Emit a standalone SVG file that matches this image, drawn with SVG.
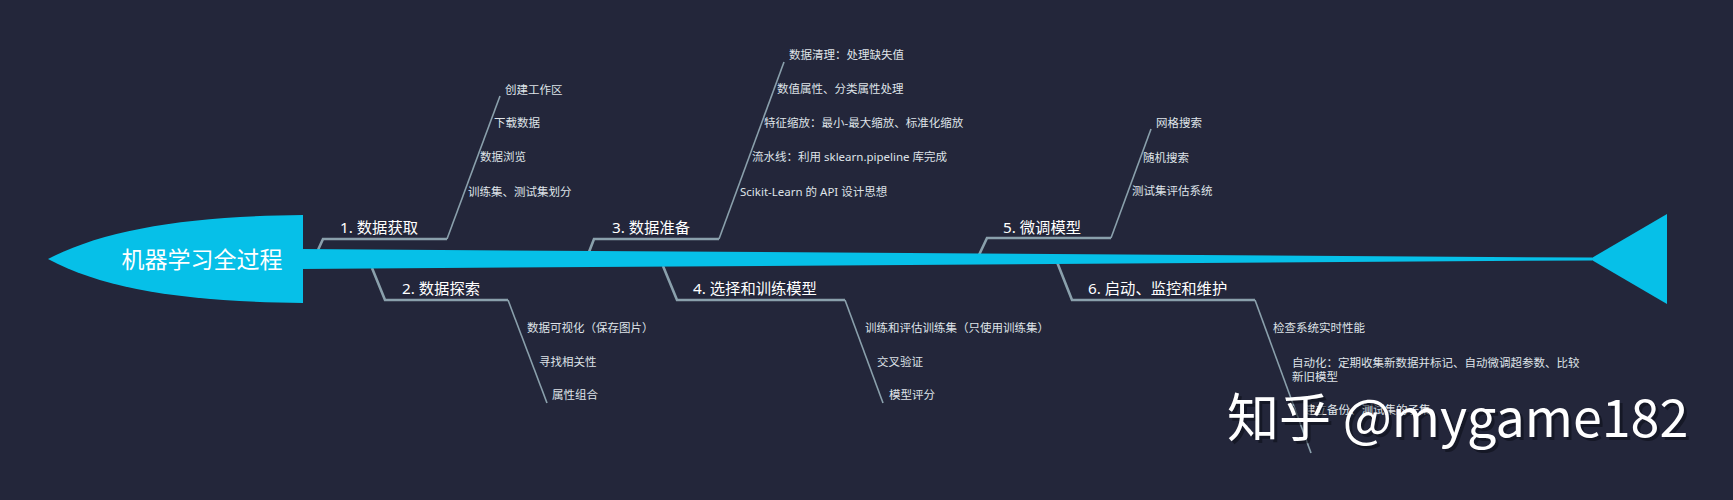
<svg xmlns="http://www.w3.org/2000/svg" width="1733" height="500" viewBox="0 0 1733 500">
<style>
.bg{fill:#23263a}
.cy{fill:#06c0e8}
.br{fill:none;stroke:#8aa0ac;stroke-width:2.6;stroke-linejoin:miter}
.sub{fill:none;stroke:#8aa0ac;stroke-width:1.6}
.t{font-family:"Noto Sans","Noto Sans CJK SC",sans-serif;fill:#ffffff;font-size:15.3px}
.s{font-family:"Noto Sans","Noto Sans CJK SC",sans-serif;fill:#dfe3e8;font-size:11.5px}
.main{font-family:"Noto Sans CJK SC","Noto Sans",sans-serif;fill:#ffffff;font-size:23px}
.wm{font-family:"Noto Sans CJK SC","Noto Sans",sans-serif;fill:#ffffff;font-size:52px}
.wms{font-family:"Noto Sans CJK SC","Noto Sans",sans-serif;fill:#0b0d16;font-size:52px;opacity:0.55}
</style>
<rect class="bg" x="0" y="0" width="1733" height="500"/>
<g id="connectors">
<path class="br" d="M318,250 L323,239 L447,239"/>
<path class="sub" d="M447,239 L500,96"/>
<path class="br" d="M589,252 L594,239 L719,239"/>
<path class="sub" d="M719,239 L784,62"/>
<path class="br" d="M979,255 L987,238 L1111,238"/>
<path class="sub" d="M1111,238 L1151,129"/>
<path class="br" d="M372,268 L385,300 L508,300"/>
<path class="sub" d="M508,300 L547,403"/>
<path class="br" d="M663,266 L677,300 L845,300"/>
<path class="sub" d="M845,300 L883,403"/>
<path class="br" d="M1057,262 L1072,300 L1255,300"/>
<path class="sub" d="M1255,300 L1311,453"/>
</g>
<g id="spine">
<polygon class="cy" points="300,249 1592,257.6 1592,260.4 300,269"/>
<polygon class="cy" points="1590,259 1667,214 1667,304"/>
</g>
<g id="head">
<path class="cy" d="M48,259 C105,229 190,216 303,215 L303,303 C190,302 105,290 48,259 Z"/>
<text class="main" x="202" y="268" text-anchor="middle">机器学习全过程</text>
</g>
<g id="b1">
<text class="t" x="340" y="233">1. 数据获取</text>
<text class="s" x="505" y="94">创建工作区</text>
<text class="s" x="494" y="127">下载数据</text>
<text class="s" x="480" y="161">数据浏览</text>
<text class="s" x="468" y="196">训练集、测试集划分</text>
</g>
<g id="b3">
<text class="t" x="612" y="233">3. 数据准备</text>
<text class="s" x="789" y="59">数据清理：处理缺失值</text>
<text class="s" x="777" y="93">数值属性、分类属性处理</text>
<text class="s" x="764" y="127">特征缩放：最小-最大缩放、标准化缩放</text>
<text class="s" x="752" y="161">流水线：利用 sklearn.pipeline 库完成</text>
<text class="s" x="740" y="196">Scikit-Learn 的 API 设计思想</text>
</g>
<g id="b5">
<text class="t" x="1003" y="233">5. 微调模型</text>
<text class="s" x="1156" y="127">网格搜索</text>
<text class="s" x="1143" y="162">随机搜索</text>
<text class="s" x="1132" y="195">测试集评估系统</text>
</g>
<g id="b2">
<text class="t" x="402" y="294">2. 数据探索</text>
<text class="s" x="527" y="332">数据可视化（保存图片）</text>
<text class="s" x="539" y="366">寻找相关性</text>
<text class="s" x="552" y="399">属性组合</text>
</g>
<g id="b4">
<text class="t" x="693" y="294">4. 选择和训练模型</text>
<text class="s" x="865" y="332">训练和评估训练集（只使用训练集）</text>
<text class="s" x="877" y="366">交叉验证</text>
<text class="s" x="889" y="399">模型评分</text>
</g>
<g id="b6">
<text class="t" x="1088" y="294">6. 启动、监控和维护</text>
<text class="s" x="1273" y="332">检查系统实时性能</text>
<text class="s" x="1292" y="367">自动化：定期收集新数据并标记、自动微调超参数、比较</text>
<text class="s" x="1292" y="381">新旧模型</text>
<text class="s" x="1304" y="414">建立备份、测试集的子集</text>
</g>
<g id="watermark">
<text class="wms" x="1230" y="440">知乎 @mygame182</text>
<text class="wm" x="1227" y="437">知乎 @mygame182</text>
</g>
</svg>
